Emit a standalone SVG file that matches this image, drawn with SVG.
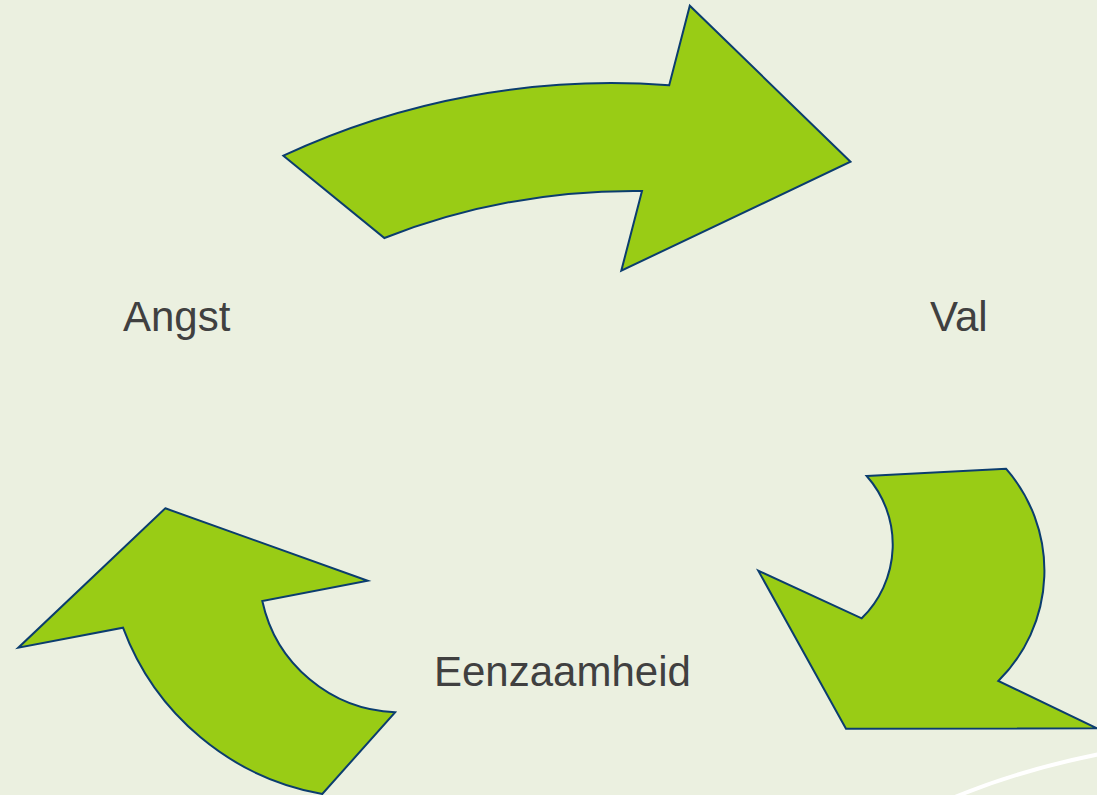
<svg xmlns="http://www.w3.org/2000/svg" width="1097" height="795" viewBox="0 0 1097 795">
<style>
.arrow{fill:#99cc15;stroke:#0b3d6e;stroke-width:2;stroke-linejoin:miter}
.lbl{font-family:"Liberation Sans",Arial,sans-serif;font-size:42px;fill:#404040}
</style>
<rect width="1097" height="795" fill="#ebf0e0"/>
<path d="M955 797 Q1020 770 1100 754" fill="none" stroke="#ffffff" stroke-width="4"/>
<g id="connectors">
<g id="arrow-top"><path class="arrow" d="M283.4 155.7 A777 777 0 0 1 669.2 85.3 L689.8 5.7 L850.5 161.7 L621.3 270.7 L642 191 A684 684 0 0 0 384.4 238 Z"/></g>
<g id="arrow-right"><path class="arrow" d="M866.7 476 L1006 468.7 A154.8 154.8 0 0 1 998.3 681 L1097 728.3 L846 728.7 L758.3 570.7 L861.7 618.3 A103.2 103.2 0 0 0 866.7 476 Z"/></g>
<g id="arrow-left"><path class="arrow" d="M165.3 508.3 L367.7 580.7 L262.3 601 A141.4 141.4 0 0 0 395 712.3 L322.3 794 A261.3 261.3 0 0 1 123 627.7 L18.3 647.7 Z"/></g>
</g>
<g id="node-angst"><text class="lbl" x="123" y="331">Angst</text></g>
<g id="node-val"><text class="lbl" x="930" y="331">Val</text></g>
<g id="node-eenzaamheid"><text class="lbl" x="434" y="686">Eenzaamheid</text></g>
</svg>
